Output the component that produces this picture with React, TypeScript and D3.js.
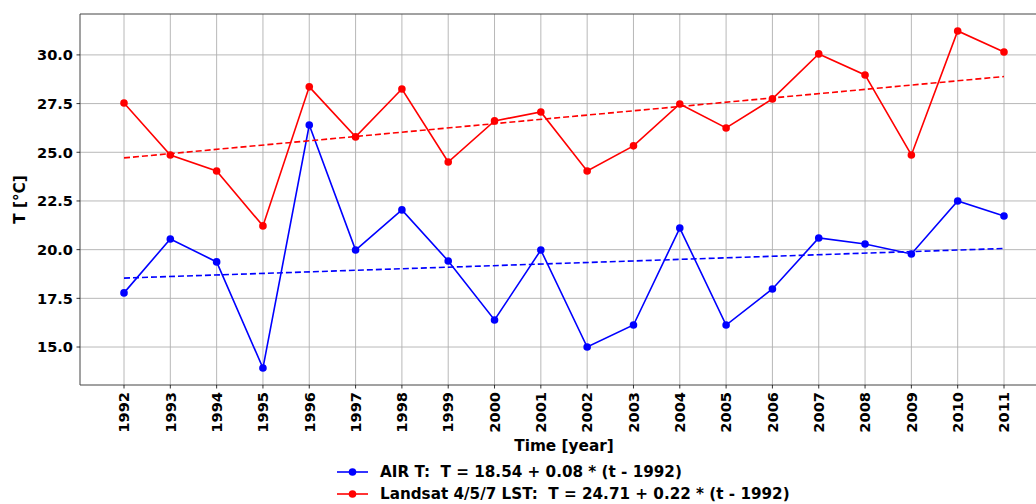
import React from "react";
import * as d3 from "d3";

const years = [1992,1993,1994,1995,1996,1997,1998,1999,2000,2001,2002,2003,2004,2005,2006,2007,2008,2009,2010,2011];
const airT = [17.78,20.55,19.37,13.92,26.4,19.98,22.04,19.42,16.39,19.98,15.0,16.13,21.11,16.13,17.98,20.6,20.29,19.78,22.5,21.73];
const lstT = [27.53,24.86,24.04,21.22,28.36,25.79,28.25,24.5,26.61,27.07,24.04,25.33,27.48,26.25,27.74,30.05,28.97,24.86,31.23,30.15];
const yTicks = [15.0, 17.5, 20.0, 22.5, 25.0, 27.5, 30.0];
const airFit = { a: 18.54, b: 0.08 };
const lstFit = { a: 24.71, b: 0.22 };
const legendLabels = [
  "AIR T:  T = 18.54 + 0.08 * (t - 1992)",
  "Landsat 4/5/7 LST:  T = 24.71 + 0.22 * (t - 1992)",
];

const W = 1036, H = 504;
const L = 80, T = 14, R = 1048, B = 385;
const font = "DejaVu Sans, sans-serif";

export default function App() {
  const x = d3.scaleLinear().domain([1991.05, 2011.95]).range([L, R]);
  const y = d3.scaleLinear().domain([13.05, 32.1]).range([B, T]);
  const line = d3.line<number>().x((_, i) => x(years[i])).y((d) => y(d));
  const series = [
    { vals: airT, fit: airFit, color: "#0000ff" },
    { vals: lstT, fit: lstFit, color: "#ff0000" },
  ];
  const y0 = years[0], y1 = years[years.length - 1];
  return (
    <svg width={W} height={H} style={{ position: "absolute", left: 0, top: 0, background: "#fff" }}>
      <defs>
        <clipPath id="pa"><rect x={L} y={T} width={R - L} height={B - T} /></clipPath>
      </defs>
      <g>
        {years.map((yr) => (
          <line key={"gx" + yr} x1={x(yr)} x2={x(yr)} y1={T} y2={B} stroke="#b0b0b0" strokeWidth={0.9} />
        ))}
        {yTicks.map((t) => (
          <line key={"gy" + t} x1={L} x2={R} y1={y(t)} y2={y(t)} stroke="#b0b0b0" strokeWidth={0.9} />
        ))}
      </g>
      <g clipPath="url(#pa)">
        {series.map((s, k) => (
          <g key={k}>
            <line x1={x(y0)} x2={x(y1)} y1={y(s.fit.a)} y2={y(s.fit.a + s.fit.b * (y1 - y0))}
              stroke={s.color} strokeWidth={1.6} strokeDasharray="6,3" />
            <path d={line(s.vals) || ""} fill="none" stroke={s.color} strokeWidth={1.6} />
            {s.vals.map((v, i) => (
              <circle key={i} cx={x(years[i])} cy={y(v)} r={3.8} fill={s.color} />
            ))}
          </g>
        ))}
      </g>
      <g stroke="#444" strokeWidth={1} fill="none">
        <line x1={L} x2={R} y1={T} y2={T} />
        <line x1={L} x2={R} y1={B} y2={B} />
        <line x1={L} x2={L} y1={T} y2={B} />
        <line x1={R} x2={R} y1={T} y2={B} />
      </g>
      {yTicks.map((t) => (
        <g key={"ty" + t}>
          <line x1={L - 3.5} x2={L} y1={y(t)} y2={y(t)} stroke="#000" strokeWidth={0.8} />
          <text x={L - 7} y={y(t)} dy="0.36em" textAnchor="end" fontFamily={font} fontWeight="bold" fontSize={14.6}>
            {t.toFixed(1)}
          </text>
        </g>
      ))}
      {years.map((yr) => (
        <g key={"tx" + yr}>
          <line x1={x(yr)} x2={x(yr)} y1={B} y2={B + 3.5} stroke="#000" strokeWidth={0.8} />
          <text transform={`translate(${x(yr)},${B + 7}) rotate(-90)`} dy="0.36em" textAnchor="end"
            fontFamily={font} fontWeight="bold" fontSize={14.6}>
            {yr}
          </text>
        </g>
      ))}
      <text x={(L + R) / 2} y={451} textAnchor="middle" fontFamily={font} fontWeight="bold" fontSize={15.3}>
        Time [year]
      </text>
      <text transform={`translate(25,${(T + B) / 2}) rotate(-90)`} textAnchor="middle" fontFamily={font} fontWeight="bold" fontSize={15.3}>
        T [°C]
      </text>
      {series.map((s, k) => {
        const ly = 472 + k * 22;
        return (
          <g key={"lg" + k}>
            <line x1={337} x2={368} y1={ly} y2={ly} stroke={s.color} strokeWidth={1.6} />
            <circle cx={352.5} cy={ly} r={3.8} fill={s.color} />
            <text x={380} y={ly} dy="0.36em" fontFamily={font} fontWeight="bold" fontSize={15.2}
              style={{ whiteSpace: "pre" }}>
              {legendLabels[k]}
            </text>
          </g>
        );
      })}
    </svg>
  );
}
